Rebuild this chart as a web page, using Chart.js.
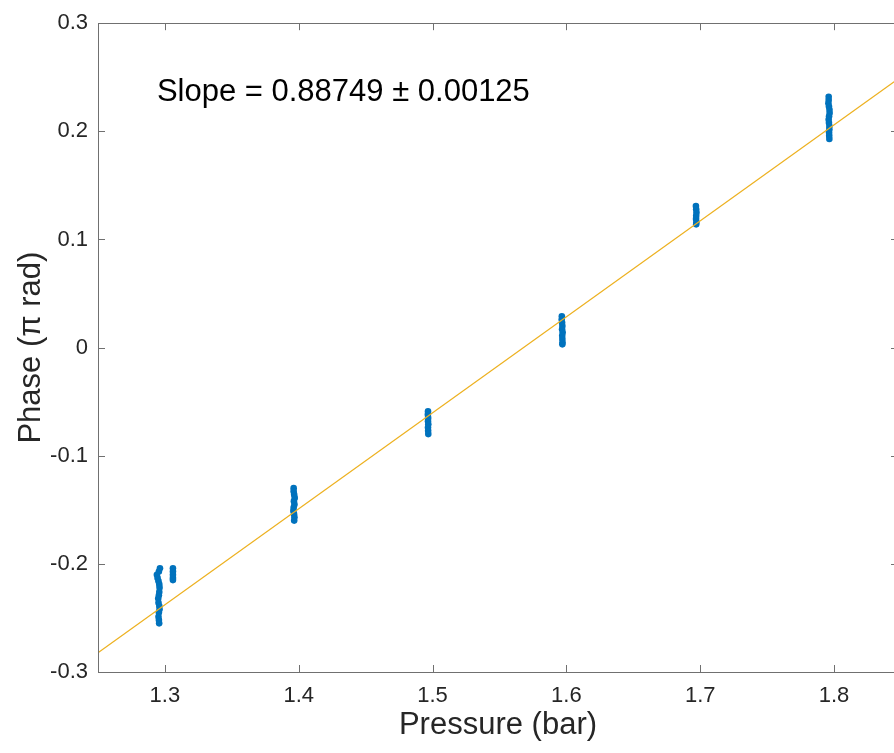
<!DOCTYPE html>
<html>
<head>
<meta charset="utf-8">
<script src="https://cdn.jsdelivr.net/npm/chart.js@4"></script>
<style>
    html, body { margin: 0; padding: 0; background: #fff; overflow: hidden; }
    #wrap { width: 894px; height: 753px; overflow: hidden; }
</style>
</head>
<body>
<div id="wrap"><canvas id="chart" width="902" height="753"></canvas></div>
<script>
// measured clusters, one per pressure step (pressure in bar, phase in pi rad)
const p130 = [1.2963, 1.2955, 1.2940, 1.2945, 1.2952, 1.2958, 1.2960, 1.2958, 1.2955, 1.2950, 1.2952, 1.2958, 1.2960, 1.2955, 1.2952, 1.2955, 1.2957];
const ph130 = [-0.204, -0.207, -0.210, -0.213, -0.216, -0.219, -0.222, -0.226, -0.229, -0.232, -0.236, -0.239, -0.242, -0.245, -0.249, -0.252, -0.255];
const p130b = [1.3060, 1.3060, 1.3060, 1.3060, 1.3060];
const ph130b = [-0.204, -0.207, -0.210, -0.213, -0.215];
const p140 = [1.3962, 1.3962, 1.3966, 1.3970, 1.3964, 1.3968, 1.3962, 1.3960, 1.3965, 1.3968, 1.3966];
const ph140 = [-0.130, -0.133, -0.136, -0.139, -0.142, -0.145, -0.148, -0.151, -0.154, -0.157, -0.160];
const p150 = [1.4966, 1.4965, 1.4967, 1.4966, 1.4968, 1.4966, 1.4967, 1.4968];
const ph150 = [-0.059, -0.062, -0.065, -0.068, -0.071, -0.074, -0.077, -0.080];
const p160 = [1.5966, 1.5965, 1.5968, 1.5970, 1.5968, 1.5972, 1.5969, 1.5970, 1.5971, 1.5970];
const ph160 = [0.029, 0.026, 0.023, 0.020, 0.017, 0.014, 0.011, 0.008, 0.005, 0.003];
const p170 = [1.6968, 1.6970, 1.6972, 1.6970, 1.6969, 1.6971, 1.6970];
const ph170 = [0.131, 0.128, 0.125, 0.122, 0.119, 0.116, 0.114];
const p180 = [1.7960, 1.7960, 1.7958, 1.7962, 1.7966, 1.7967, 1.7963, 1.7960, 1.7962, 1.7965, 1.7965, 1.7963, 1.7964, 1.7965];
const ph180 = [0.232, 0.229, 0.226, 0.223, 0.220, 0.217, 0.214, 0.211, 0.208, 0.205, 0.202, 0.199, 0.196, 0.193];

// linear fit end points
const fitX = [1.25, 1.8478];
const fitY = [-0.2822, 0.2483];

const xTicks = [1.3, 1.4, 1.5, 1.6, 1.7, 1.8];
const yTicks = [-0.3, -0.2, -0.1, 0, 0.1, 0.2, 0.3];
const yTickLabels = ['-0.3', '-0.2', '-0.1', '0', '0.1', '0.2', '0.3'];
const slopeLabel = 'Slope = 0.88749 \u00b1 0.00125';

const FONT = '"Liberation Sans", Arial, Helvetica, sans-serif';
const AXIS_COLOR = '#707070';
const TEXT_COLOR = '#262626';

const pairs = (xs, ys) => xs.map((x, i) => ({ x: x, y: ys[i] }));
const measured = [].concat(
    pairs(p130, ph130), pairs(p130b, ph130b), pairs(p140, ph140), pairs(p150, ph150),
    pairs(p160, ph160), pairs(p170, ph170), pairs(p180, ph180)
);

// box with inward ticks on all sides, plus the slope text
const boxPlugin = {
    id: 'box',
    afterDraw(chart) {
        const { ctx, chartArea: a, scales } = chart;
        const len = 7;
        ctx.save();
        ctx.strokeStyle = AXIS_COLOR;
        ctx.lineWidth = 1;
        ctx.strokeRect(Math.round(a.left) + 0.5, Math.round(a.top) + 0.5,
            Math.round(a.right - a.left), Math.round(a.bottom - a.top));
        ctx.beginPath();
        xTicks.forEach(v => {
            const px = Math.round(scales.x.getPixelForValue(v)) + 0.5;
            ctx.moveTo(px, a.bottom); ctx.lineTo(px, a.bottom - len);
            ctx.moveTo(px, a.top); ctx.lineTo(px, a.top + len);
        });
        yTicks.forEach(v => {
            const py = Math.round(scales.y.getPixelForValue(v)) + 0.5;
            ctx.moveTo(a.left, py); ctx.lineTo(a.left + len, py);
            ctx.moveTo(a.right, py); ctx.lineTo(a.right - len, py);
        });
        ctx.stroke();

        ctx.fillStyle = '#000';
        ctx.font = '31px ' + FONT;
        ctx.textBaseline = 'middle';
        ctx.textAlign = 'left';
        ctx.fillText(slopeLabel, scales.x.getPixelForValue(1.294), scales.y.getPixelForValue(0.236));
        ctx.restore();
    }
};

new Chart(document.getElementById('chart'), {
    type: 'scatter',
    data: {
        datasets: [
            {
                type: 'line',
                label: 'Fit',
                data: pairs(fitX, fitY),
                borderColor: '#EDB120',
                borderWidth: 1.2,
                pointRadius: 0,
                fill: false,
                order: 0
            },
            {
                label: 'Measured',
                data: measured,
                backgroundColor: '#0072BD',
                borderWidth: 0,
                pointRadius: 3.3,
                order: 1
            }
        ]
    },
    options: {
        responsive: false,
        animation: false,
        layout: { padding: { top: 19, right: 2, left: 0, bottom: 0 } },
        plugins: { legend: { display: false }, tooltip: { enabled: false } },
        scales: {
            x: {
                type: 'linear',
                min: 1.25,
                max: 1.8478,
                afterBuildTicks: s => { s.ticks = xTicks.map(v => ({ value: v })); },
                afterFit: s => { s.height = 81; },
                grid: { display: false, drawTicks: false },
                border: { display: false },
                ticks: {
                    color: TEXT_COLOR,
                    font: { family: FONT, size: 22 },
                    padding: 11,
                    maxRotation: 0,
                    callback: v => v.toFixed(1)
                },
                title: {
                    display: true,
                    text: 'Pressure (bar)',
                    color: TEXT_COLOR,
                    font: { family: FONT, size: 31 },
                    padding: { top: 0, bottom: 9 }
                }
            },
            y: {
                type: 'linear',
                min: -0.3,
                max: 0.3,
                afterBuildTicks: s => { s.ticks = yTicks.map(v => ({ value: v })); },
                afterFit: s => { s.width = 98; },
                grid: { display: false, drawTicks: false },
                border: { display: false },
                ticks: {
                    color: TEXT_COLOR,
                    font: { family: FONT, size: 22 },
                    padding: 10,
                    callback: v => yTickLabels[yTicks.findIndex(t => Math.abs(t - v) < 1e-9)]
                },
                title: {
                    display: true,
                    text: 'Phase (\u03c0 rad)',
                    color: TEXT_COLOR,
                    font: { family: FONT, size: 31 },
                    padding: { top: 13, bottom: 0 }
                }
            }
        }
    },
    plugins: [boxPlugin]
});
</script>
</body>
</html>
